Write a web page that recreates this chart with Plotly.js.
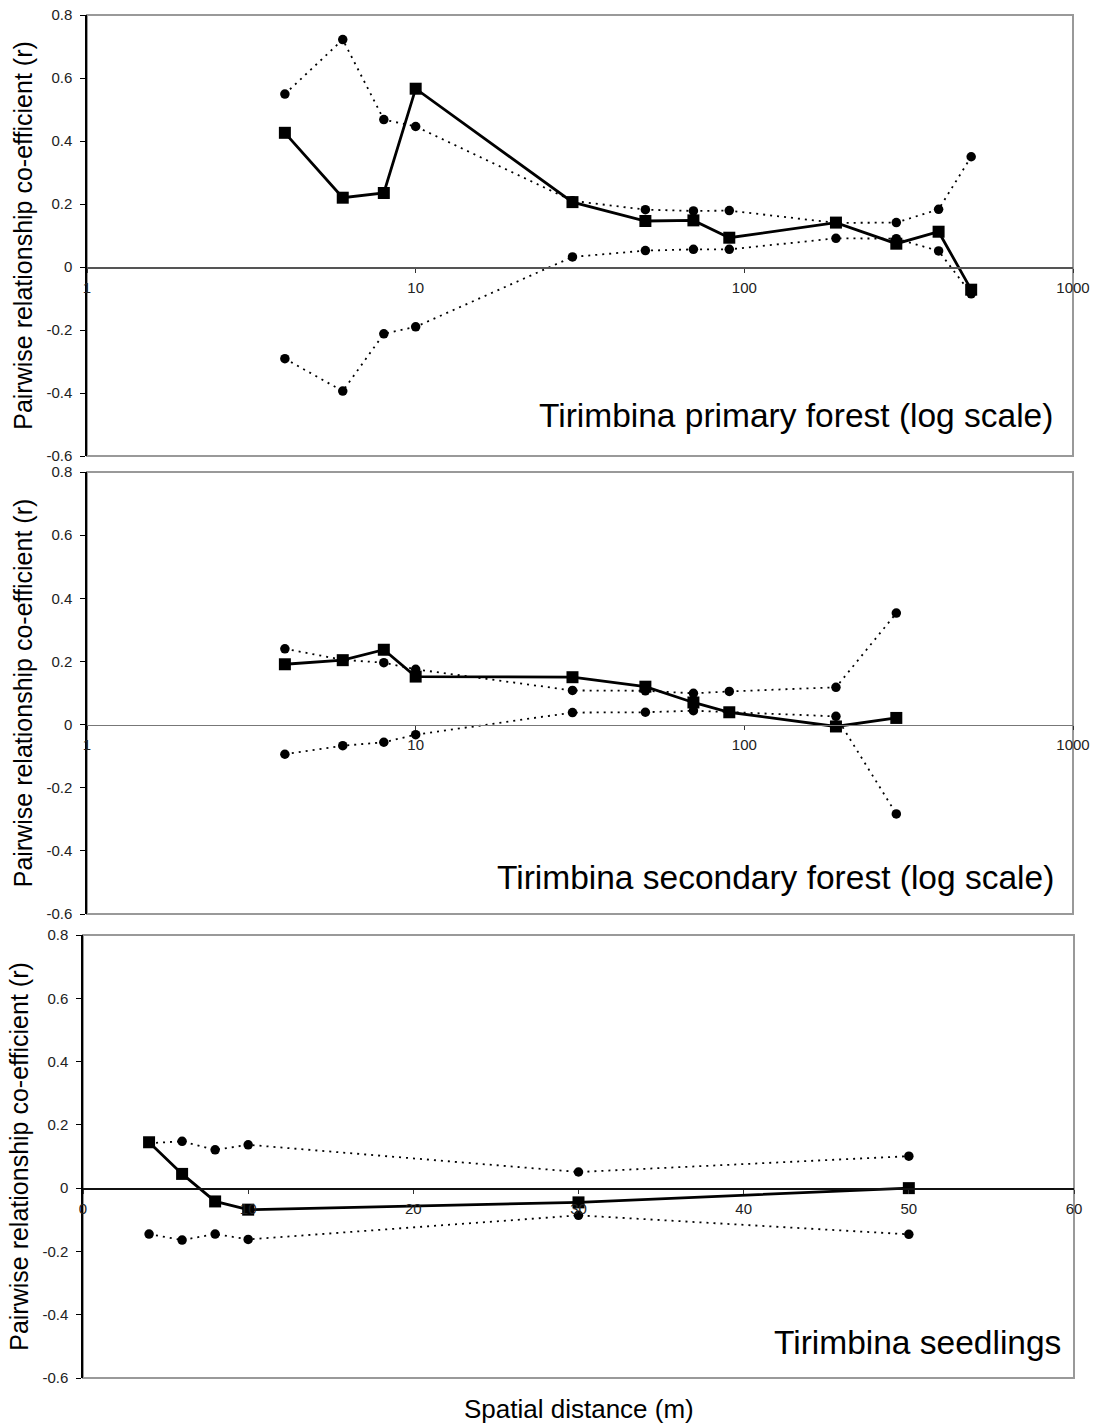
<!DOCTYPE html>
<html><head><meta charset="utf-8">
<script src="https://cdn.plot.ly/plotly-3.0.1.min.js"></script>
<style>html,body{margin:0;padding:0;background:#fff}</style>
</head><body>
<div id="chart" style="width:1093px;height:1425px"></div>
<script>
// ---- data ----
const distPrimary = [4, 6, 8, 10, 30, 50, 70, 90, 190, 290, 390, 490];
const meanPrimary = [0.426, 0.220, 0.235, 0.566, 0.206, 0.146, 0.148, 0.093, 0.141, 0.074, 0.112, -0.072];
const upperPrimary = [0.549, 0.722, 0.468, 0.446, 0.210, 0.182, 0.178, 0.179, 0.140, 0.141, 0.183, 0.350];
const lowerPrimary = [-0.291, -0.394, -0.212, -0.190, 0.032, 0.052, 0.056, 0.056, 0.091, 0.090, 0.051, -0.085];

const distSecondary = [4, 6, 8, 10, 30, 50, 70, 90, 190, 290];
const meanSecondary = [0.191, 0.204, 0.237, 0.152, 0.150, 0.120, 0.070, 0.039, -0.006, 0.021];
const upperSecondary = [0.240, 0.205, 0.196, 0.175, 0.108, 0.107, 0.099, 0.105, 0.118, 0.353];
const lowerSecondary = [-0.094, -0.067, -0.056, -0.032, 0.038, 0.039, 0.044, 0.040, 0.026, -0.283];

const distSeedlings = [4, 6, 8, 10, 30, 50];
const meanSeedlings = [0.145, 0.045, -0.042, -0.068, -0.045, 0.000];
const upperSeedlings = [0.142, 0.148, 0.121, 0.137, 0.051, 0.101];
const lowerSeedlings = [-0.145, -0.164, -0.145, -0.162, -0.086, -0.146];

const yTickVals = [-0.6, -0.4, -0.2, 0, 0.2, 0.4, 0.6, 0.8];
const yTickText = ['-0.6', '-0.4', '-0.2', '0', '0.2', '0.4', '0.6', '0.8'];
const logTickVals = [1, 10, 100, 1000];
const logTickText = ['1', '10', '100', '1000'];
const linTickVals = [0, 10, 20, 30, 40, 50, 60];
const linTickText = ['0', '10', '20', '30', '40', '50', '60'];

const panelTitles = ['Tirimbina primary forest (log scale)', 'Tirimbina secondary forest (log scale)', 'Tirimbina seedlings'];
const yTitle = 'Pairwise relationship co-efficient (r)';
const xTitle = 'Spatial distance (m)';

// ---- layout geometry ----
const W = 1093, H = 1425;
const FONT = 'Liberation Sans, Arial, sans-serif';
const px = p => p / W;
const py = p => 1 - p / H;
const panels = [
  {xd: [87, 1073], yd: [15, 456], type: 'log', range: [0, 3], tv: logTickVals, tt: logTickText, zc: '#555', labX: 1055, labY: 415},
  {xd: [87, 1073], yd: [472, 914], type: 'log', range: [0, 3], tv: logTickVals, tt: logTickText, zc: '#777', labX: 1056, labY: 877},
  {xd: [83, 1074], yd: [935, 1378], type: 'linear', range: [0, 60], tv: linTickVals, tt: linTickText, zc: '#111', labX: 1063, labY: 1342}
];
const series = [
  [distPrimary, meanPrimary, upperPrimary, lowerPrimary],
  [distSecondary, meanSecondary, upperSecondary, lowerSecondary],
  [distSeedlings, meanSeedlings, upperSeedlings, lowerSeedlings]
];

const data = [];
const layout = {
  width: W, height: H,
  margin: {l: 0, r: 0, t: 0, b: 0},
  paper_bgcolor: '#fff', plot_bgcolor: '#fff',
  showlegend: false,
  font: {family: FONT, color: '#000'},
  shapes: [], annotations: []
};

panels.forEach((p, i) => {
  const n = i === 0 ? '' : String(i + 1);
  const xa = 'x' + n, ya = 'y' + n;
  const [d, m, u, l] = series[i];
  const dotted = {color: '#000', width: 1.8, dash: '2px,5px'};
  [u, l].forEach(v => data.push({
    x: d, y: v, xaxis: xa, yaxis: ya, type: 'scatter', mode: 'lines+markers',
    line: dotted, marker: {symbol: 'circle', size: 9.5, color: '#000'}, hoverinfo: 'x+y'
  }));
  data.push({
    x: d, y: m, xaxis: xa, yaxis: ya, type: 'scatter', mode: 'lines+markers',
    line: {color: '#000', width: 2.8}, marker: {symbol: 'square', size: 12, color: '#000'}, hoverinfo: 'x+y'
  });
  const yDom = [py(p.yd[1]), py(p.yd[0])];
  const xDom = [px(p.xd[0]), px(p.xd[1])];
  const zeroFrac = (0 - (-0.6)) / 1.4;
  layout['xaxis' + n] = {
    domain: xDom, anchor: 'free', position: yDom[0] + zeroFrac * (yDom[1] - yDom[0]),
    type: p.type, range: p.range, tickvals: p.tv, ticktext: p.tt,
    ticks: 'outside', ticklen: 4, tickwidth: 1, tickcolor: '#333',
    showline: true, linecolor: p.zc, linewidth: 1.6,
    showgrid: false, zeroline: false, ticklabelstandoff: 2,
    tickfont: {family: FONT, size: 15, color: '#222'}
  };
  layout['yaxis' + n] = {
    domain: yDom, anchor: xa, range: [-0.6, 0.8],
    tickvals: yTickVals, ticktext: yTickText,
    ticks: 'outside', ticklen: 5, tickwidth: 1, tickcolor: '#000',
    showline: true, linecolor: '#000', linewidth: 1.6,
    showgrid: false, zeroline: false, ticklabelstandoff: 5,
    tickfont: {family: FONT, size: 15, color: '#222'},
    title: {text: yTitle, font: {family: FONT, size: 25, color: '#000'}, standoff: 7}
  };
  layout.shapes.push({
    type: 'rect', xref: xa + ' domain', yref: ya + ' domain', x0: 0, x1: 1, y0: 0, y1: 1,
    line: {color: '#999', width: 2}, layer: 'below'
  });
  layout.annotations.push({
    text: panelTitles[i], xref: 'paper', yref: 'paper', x: px(p.labX), y: py(p.labY),
    xanchor: 'right', yanchor: 'middle', showarrow: false,
    font: {family: FONT, size: 33.5, color: '#000'}
  });
});
layout.annotations.push({
  text: xTitle, xref: 'paper', yref: 'paper', x: px(579), y: py(1409),
  xanchor: 'center', yanchor: 'middle', showarrow: false,
  font: {family: FONT, size: 26, color: '#000'}
});

Plotly.newPlot('chart', data, layout, {displayModeBar: false, staticPlot: true});
</script>
</body></html>
